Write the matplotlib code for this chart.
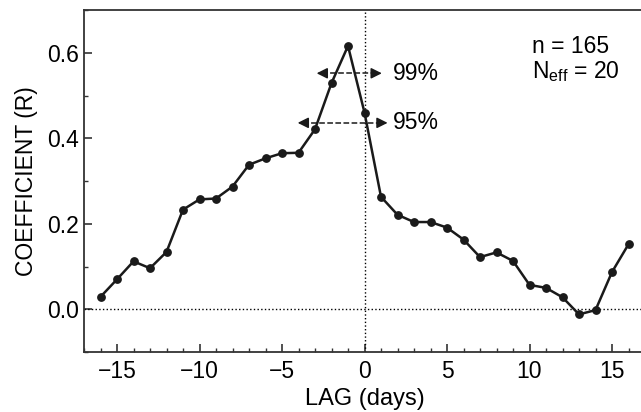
import numpy as np
import matplotlib
matplotlib.use('Agg')
from matplotlib import pyplot as plt
from matplotlib.ticker import MultipleLocator

plt.rcParams['font.family'] = ['Liberation Sans', 'DejaVu Sans']
plt.rcParams['mathtext.fontset'] = 'custom'
plt.rcParams['mathtext.rm'] = 'Liberation Sans'
plt.rcParams['mathtext.it'] = 'Liberation Sans:italic'

# lag (days) and correlation coefficient
lag = np.arange(-16, 17)
coef = [0.029, 0.070, 0.112, 0.096, 0.134, 0.233, 0.257, 0.259, 0.287,
        0.338, 0.353, 0.365, 0.366, 0.421, 0.529, 0.616, 0.460, 0.263,
        0.221, 0.204, 0.204, 0.191, 0.163, 0.122, 0.133, 0.113, 0.057,
        0.050, 0.028, -0.012, -0.002, 0.087, 0.152]

# significance levels: (label, R, left end, right end)
levels = [('99%', 0.552, -2.9, 1.05), ('95%', 0.436, -4.05, 1.4)]

fig = plt.figure(figsize=(6.41, 4.12), dpi=100)
ax = fig.add_axes([84 / 641, 60 / 412, 561 / 641, 342 / 412])

ax.axhline(0, color='k', ls=':', lw=1)
ax.axvline(0, color='k', ls=':', lw=1)

ax.plot(lag, coef, '-o', color='#1a1a1a', lw=1.8, ms=5.3)

for label, r, x0, x1 in levels:
    ax.plot([x0 + 0.3, x1 - 0.3], [r, r], '--', color='#1a1a1a', lw=1.1)
    for xa, xb in [(x0, x0 + 0.5), (x1, x1 - 0.5)]:
        ax.annotate('', xy=(xa, r), xytext=(xb, r),
                    arrowprops=dict(arrowstyle='-|>', color='#1a1a1a',
                                    lw=1.1, mutation_scale=16,
                                    shrinkA=0, shrinkB=0))
    ax.text(1.75, r, label, fontsize=16.5, va='center', ha='left')

ax.text(10.15, 0.615, 'n = 165', fontsize=16.5, va='center', ha='left')
ax.text(10.15, 0.556, r'N$_{\mathrm{eff}}$ = 20', fontsize=16.5, va='center', ha='left')

ax.set_xlim(-17, 17)
ax.set_ylim(-0.1, 0.7)
ax.xaxis.set_major_locator(MultipleLocator(5))
ax.xaxis.set_minor_locator(MultipleLocator(1))
ax.yaxis.set_minor_locator(MultipleLocator(0.1))
ax.set_yticks([0, 0.2, 0.4, 0.6])
ax.set_yticklabels(['0.0', '0.2', '0.4', '0.6'])
ax.tick_params(which='both', direction='in', labelsize=16.5, color='#333333')
ax.tick_params(which='major', length=6, width=1.2)
ax.tick_params(which='minor', length=3, width=1.0)
ax.tick_params(axis='x', pad=6)
for s in ax.spines.values():
    s.set_color('#333333')
    s.set_linewidth(1.3)

ax.set_xlabel('LAG (days)', fontsize=17, labelpad=3)
ax.set_ylabel('COEFFICIENT (R)', fontsize=16.5, labelpad=7)

plt.savefig('out.png', dpi=100)
